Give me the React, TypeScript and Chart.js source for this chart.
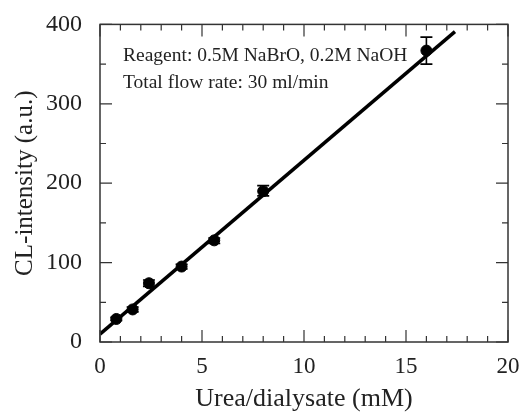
import React, { useEffect, useRef } from "react";
import { Chart, registerables } from "chart.js";
Chart.register(...registerables);

const urea = [0.8, 1.6, 2.4, 4, 5.6, 8, 16];
const intensity = [29, 41, 74, 95, 128, 190, 367];
const errLow = [27, 38, 70, 92, 124, 184, 350];
const errHigh = [31, 44, 78, 98, 131, 197, 384];
const fitX = [0, 17.4];
const fitY = [10, 391];
const noteLines = ["Reagent: 0.5M NaBrO, 0.2M NaOH", "Total flow rate: 30 ml/min"];
const FONT = "'Liberation Serif', 'Times New Roman', serif";

const framePlugin = {
  id: "frame",
  afterDatasetsDraw(chart: any) {
    const ctx = chart.ctx;
    const { left, right, top, bottom } = chart.chartArea;
    const xs = chart.scales.x;
    const ys = chart.scales.y;
    ctx.save();
    // error bars
    ctx.strokeStyle = "#000";
    ctx.lineWidth = 1.6;
    for (let i = 0; i < urea.length; i++) {
      const px = xs.getPixelForValue(urea[i]);
      const pl = ys.getPixelForValue(errLow[i]);
      const ph = ys.getPixelForValue(errHigh[i]);
      ctx.beginPath();
      ctx.moveTo(px, pl);
      ctx.lineTo(px, ph);
      ctx.moveTo(px - 6, pl);
      ctx.lineTo(px + 6, pl);
      ctx.moveTo(px - 6, ph);
      ctx.lineTo(px + 6, ph);
      ctx.stroke();
    }
    // frame
    ctx.lineWidth = 1.5;
    ctx.strokeStyle = "#333";
    ctx.strokeRect(left, top, right - left, bottom - top);
    // ticks
    ctx.lineWidth = 1.2;
    ctx.beginPath();
    for (let v = 0; v <= 20; v += 1) {
      const px = xs.getPixelForValue(v);
      const len = v % 5 === 0 ? 12 : 6;
      ctx.moveTo(px, bottom);
      ctx.lineTo(px, bottom - len);
      ctx.moveTo(px, top);
      ctx.lineTo(px, top + len);
    }
    for (let v = 0; v <= 400; v += 50) {
      const py = ys.getPixelForValue(v);
      const len = v % 100 === 0 ? 12 : 6;
      ctx.moveTo(left, py);
      ctx.lineTo(left + len, py);
      ctx.moveTo(right, py);
      ctx.lineTo(right - len, py);
    }
    ctx.stroke();
    // note
    ctx.fillStyle = "#222";
    ctx.font = "19.5px " + FONT;
    ctx.textBaseline = "middle";
    ctx.textAlign = "left";
    ctx.fillText(noteLines[0], left + 23, top + 31);
    ctx.fillText(noteLines[1], left + 23, top + 58);
    ctx.restore();
  },
};

export default function App() {
  const ref = useRef<HTMLCanvasElement>(null);
  useEffect(() => {
    document.body.style.margin = "0";
    const chart = new Chart(ref.current!, {
      type: "scatter",
      data: {
        datasets: [
          {
            data: urea.map((x, i) => ({ x, y: intensity[i] })),
            backgroundColor: "#000",
            borderColor: "#000",
            pointRadius: 5.5,
            showLine: false,
          },
          {
            data: fitX.map((x, i) => ({ x, y: fitY[i] })),
            borderColor: "#000",
            borderWidth: 3.5,
            pointRadius: 0,
            showLine: true,
          },
        ],
      },
      options: {
        animation: false,
        responsive: false,
        layout: { padding: { top: 24, right: 22, left: 0, bottom: 0 } },
        plugins: { legend: { display: false }, tooltip: { enabled: false } },
        scales: {
          x: {
            type: "linear",
            min: 0,
            max: 20,
            ticks: { stepSize: 5, color: "#222", font: { family: FONT, size: 23 }, padding: 3 },
            grid: { display: false },
            border: { display: false },
            title: {
              display: true,
              text: "Urea/dialysate (mM)",
              color: "#222",
              font: { family: FONT, size: 26 },
              padding: { top: 0, bottom: -3 },
            },
            afterFit(s: any) {
              s.height = 70;
            },
          },
          y: {
            min: 0,
            max: 400,
            ticks: { stepSize: 100, color: "#222", font: { family: FONT, size: 24 }, padding: 10 },
            grid: { display: false },
            border: { display: false },
            title: {
              display: true,
              text: "CL-intensity (a.u.)",
              color: "#222",
              font: { family: FONT, size: 25 },
              padding: { top: 10, bottom: 0 },
            },
            afterFit(s: any) {
              s.width = 100;
            },
          },
        },
      },
      plugins: [framePlugin],
    });
    return () => chart.destroy();
  }, []);
  return <canvas ref={ref} width={530} height={412} style={{ display: "block" }} />;
}
